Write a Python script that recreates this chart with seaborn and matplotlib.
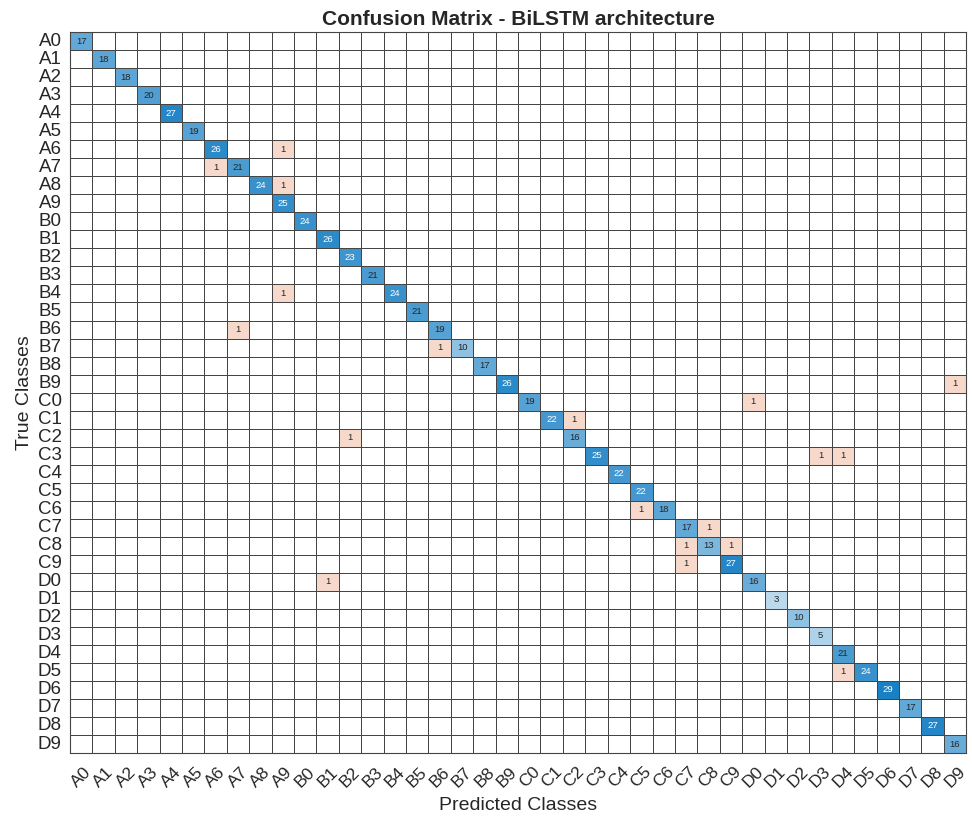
import numpy as np
import pandas as pd
import matplotlib
matplotlib.use("Agg")
import matplotlib.pyplot as plt
from matplotlib.colors import LinearSegmentedColormap, ListedColormap
import seaborn as sns

# ── Data ──────────────────────────────────────────────────────────────────────

classes = [f"{g}{d}" for g in "ABCD" for d in range(10)]

diag_counts = [17, 18, 18, 20, 27, 19, 26, 21, 24, 25,
               24, 26, 23, 21, 24, 21, 19, 10, 17, 26,
               19, 22, 16, 25, 22, 22, 18, 17, 13, 27,
               16, 3, 10, 5, 21, 24, 29, 17, 27, 16]

# misclassifications: (true class, predicted class, count)
off_true = ["A6", "A7", "A8", "B4", "B6", "B7", "B9", "C0", "C1", "C2",
            "C3", "C3", "C6", "C7", "C8", "C8", "C9", "D0", "D5"]
off_pred = ["A9", "A6", "A9", "A9", "A7", "B6", "D9", "D0", "C2", "B2",
            "D3", "D4", "C5", "C8", "C7", "C9", "C7", "B1", "D4"]
off_count = [1, 1, 1, 1, 1, 1, 1, 1, 1, 1,
             1, 1, 1, 1, 1, 1, 1, 1, 1]

cm = pd.DataFrame(0, index=classes, columns=classes)
for c, v in zip(classes, diag_counts):
    cm.loc[c, c] = v
for t, p, v in zip(off_true, off_pred, off_count):
    cm.loc[t, p] = v

# ── Style ─────────────────────────────────────────────────────────────────────

sns.set_theme(style="white")
plt.rcParams["font.family"] = ["Liberation Sans", "DejaVu Sans"]

blue_cmap = LinearSegmentedColormap.from_list("diag", ["#FFFFFF", "#0072BD"])
orange_cmap = LinearSegmentedColormap.from_list("off", ["#FFFFFF", "#D95319"])
vmin, vmax = -8.3, 33.1   # gives MATLAB-like shading (min tint ~0.2)

grid_kw = dict(linewidths=0.65, linecolor="#454545", cbar=False,
               xticklabels=classes, yticklabels=classes)

vals = cm.values
is_diag = np.eye(len(classes), dtype=bool)
dark_text = 22  # diagonal values from here get white labels
annot_size = 6.8

# ── Plot ──────────────────────────────────────────────────────────────────────

fig = plt.figure(figsize=(9.72, 8.21), dpi=100)
ax = fig.add_axes([0.072, 0.0828, 0.922, 0.878])

# white background grid
sns.heatmap(np.zeros_like(vals), cmap=ListedColormap(["white"]), ax=ax, **grid_kw)

# diagonal, dark text
sns.heatmap(cm, mask=~(is_diag & (vals < dark_text)), cmap=blue_cmap, vmin=vmin, vmax=vmax,
            annot=True, fmt="d", annot_kws={"fontsize": annot_size, "color": "#262626"},
            ax=ax, **grid_kw)
# diagonal, white text
sns.heatmap(cm, mask=~(is_diag & (vals >= dark_text)), cmap=blue_cmap, vmin=vmin, vmax=vmax,
            annot=True, fmt="d", annot_kws={"fontsize": annot_size, "color": "white"},
            ax=ax, **grid_kw)
# off-diagonal errors
sns.heatmap(cm, mask=~(~is_diag & (vals > 0)), cmap=orange_cmap, vmin=vmin, vmax=vmax,
            annot=True, fmt="d", annot_kws={"fontsize": annot_size, "color": "#262626"},
            ax=ax, **grid_kw)

for s in ax.spines.values():
    s.set_visible(True)
    s.set_color("#454545")
    s.set_linewidth(0.8)

ax.set_title("Confusion Matrix - BiLSTM architecture", fontsize=15, fontweight="bold",
             color="#262626", pad=5)
ax.set_xlabel("Predicted Classes", fontsize=14, color="#262626", labelpad=5)
ax.set_ylabel("True Classes", fontsize=14, color="#262626", labelpad=3)

ax.tick_params(axis="x", length=0, pad=8, labelsize=12.5, labelcolor="#262626")
ax.tick_params(axis="y", length=0, pad=6, labelsize=13.5, labelcolor="#262626")
plt.setp(ax.get_xticklabels(), rotation=45, ha="center")
plt.setp(ax.get_yticklabels(), rotation=0)

fig.savefig("out.png", dpi=100)
plt.close()
